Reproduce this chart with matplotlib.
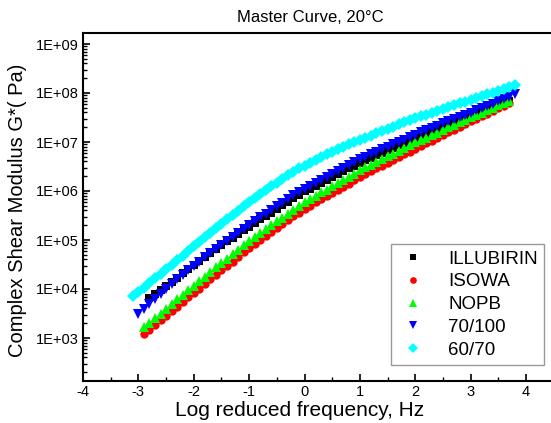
import matplotlib
matplotlib.use("Agg")
import matplotlib.pyplot as plt
import matplotlib.ticker as mticker
import numpy as np

plt.rcParams['font.family'] = ['Liberation Sans', 'DejaVu Sans']

# ---- data: log10 reduced frequency (Hz) and log10 |G*| (Pa) ----
illubirin_x = [-2.8, -2.7, -2.6, -2.5, -2.4, -2.3, -2.2, -2.1, -2.0,
               -1.9, -1.8, -1.7, -1.6, -1.5, -1.4, -1.3, -1.2, -1.1, -1.0,
               -0.9, -0.8, -0.7, -0.6, -0.5, -0.4, -0.3, -0.2, -0.1, 0.0,
               0.1, 0.2, 0.3, 0.4, 0.5, 0.6, 0.7, 0.8, 0.9, 1.0,
               1.1, 1.2, 1.3, 1.4, 1.5, 1.6, 1.7, 1.8, 1.9, 2.0,
               2.1, 2.2, 2.3, 2.4, 2.5, 2.6, 2.7, 2.8, 2.9, 3.0,
               3.1, 3.2, 3.3, 3.4, 3.5, 3.6, 3.7]
illubirin_logg = [3.82, 3.90, 3.98, 4.07, 4.15, 4.23, 4.32, 4.41, 4.50,
                  4.58, 4.66, 4.74, 4.82, 4.90, 4.97, 5.05, 5.12, 5.20, 5.27,
                  5.34, 5.42, 5.49, 5.56, 5.64, 5.71, 5.78, 5.85, 5.92, 5.99,
                  6.05, 6.11, 6.17, 6.23, 6.29, 6.35, 6.41, 6.47, 6.52, 6.58,
                  6.63, 6.68, 6.73, 6.78, 6.83, 6.88, 6.93, 6.98, 7.03, 7.08,
                  7.12, 7.17, 7.21, 7.26, 7.30, 7.35, 7.39, 7.44, 7.48, 7.52,
                  7.57, 7.61, 7.66, 7.70, 7.75, 7.79, 7.84]

isowa_x = [-2.9, -2.8, -2.7, -2.6, -2.5, -2.4, -2.3, -2.2, -2.1, -2.0,
           -1.9, -1.8, -1.7, -1.6, -1.5, -1.4, -1.3, -1.2, -1.1, -1.0,
           -0.9, -0.8, -0.7, -0.6, -0.5, -0.4, -0.3, -0.2, -0.1, 0.0,
           0.1, 0.2, 0.3, 0.4, 0.5, 0.6, 0.7, 0.8, 0.9, 1.0,
           1.1, 1.2, 1.3, 1.4, 1.5, 1.6, 1.7, 1.8, 1.9, 2.0,
           2.1, 2.2, 2.3, 2.4, 2.5, 2.6, 2.7, 2.8, 2.9, 3.0,
           3.1, 3.2, 3.3, 3.4, 3.5, 3.6, 3.7]
isowa_logg = [3.08, 3.17, 3.27, 3.36, 3.45, 3.55, 3.64, 3.73, 3.83, 3.92,
              4.01, 4.10, 4.20, 4.29, 4.38, 4.47, 4.56, 4.66, 4.75, 4.84,
              4.92, 5.00, 5.08, 5.16, 5.24, 5.32, 5.40, 5.48, 5.56, 5.64,
              5.70, 5.77, 5.83, 5.90, 5.96, 6.02, 6.09, 6.15, 6.22, 6.28,
              6.34, 6.40, 6.46, 6.52, 6.57, 6.63, 6.69, 6.75, 6.80, 6.86,
              6.92, 6.97, 7.03, 7.08, 7.14, 7.20, 7.25, 7.31, 7.36, 7.42,
              7.47, 7.53, 7.58, 7.63, 7.69, 7.74, 7.79]

nopb_x = [-2.9, -2.8, -2.7, -2.6, -2.5, -2.4, -2.3, -2.2, -2.1, -2.0,
          -1.9, -1.8, -1.7, -1.6, -1.5, -1.4, -1.3, -1.2, -1.1, -1.0,
          -0.9, -0.8, -0.7, -0.6, -0.5, -0.4, -0.3, -0.2, -0.1, 0.0,
          0.1, 0.2, 0.3, 0.4, 0.5, 0.6, 0.7, 0.8, 0.9, 1.0,
          1.1, 1.2, 1.3, 1.4, 1.5, 1.6, 1.7, 1.8, 1.9, 2.0,
          2.1, 2.2, 2.3, 2.4, 2.5, 2.6, 2.7, 2.8, 2.9, 3.0,
          3.1, 3.2, 3.3, 3.4, 3.5, 3.6, 3.7]
nopb_logg = [3.22, 3.31, 3.41, 3.50, 3.60, 3.69, 3.79, 3.88, 3.98, 4.07,
             4.16, 4.25, 4.35, 4.44, 4.53, 4.62, 4.71, 4.80, 4.89, 4.98,
             5.06, 5.14, 5.22, 5.30, 5.38, 5.45, 5.53, 5.61, 5.69, 5.77,
             5.84, 5.90, 5.97, 6.03, 6.10, 6.16, 6.23, 6.29, 6.35, 6.42,
             6.48, 6.53, 6.59, 6.65, 6.71, 6.76, 6.82, 6.88, 6.94, 6.99,
             7.04, 7.09, 7.14, 7.19, 7.25, 7.30, 7.35, 7.40, 7.45, 7.50,
             7.55, 7.60, 7.65, 7.70, 7.75, 7.79, 7.84]

b70_100_x = [-3.0, -2.9, -2.8, -2.7, -2.6, -2.5, -2.4, -2.3, -2.2, -2.1, -2.0,
             -1.9, -1.8, -1.7, -1.6, -1.5, -1.4, -1.3, -1.2, -1.1, -1.0,
             -0.9, -0.8, -0.7, -0.6, -0.5, -0.4, -0.3, -0.2, -0.1, 0.0,
             0.1, 0.2, 0.3, 0.4, 0.5, 0.6, 0.7, 0.8, 0.9, 1.0,
             1.1, 1.2, 1.3, 1.4, 1.5, 1.6, 1.7, 1.8, 1.9, 2.0,
             2.1, 2.2, 2.3, 2.4, 2.5, 2.6, 2.7, 2.8, 2.9, 3.0,
             3.1, 3.2, 3.3, 3.4, 3.5, 3.6, 3.7, 3.8]
b70_100_logg = [3.50, 3.60, 3.70, 3.80, 3.90, 4.00, 4.10, 4.20, 4.29, 4.38, 4.47,
                4.56, 4.65, 4.73, 4.82, 4.90, 4.98, 5.07, 5.15, 5.23, 5.31,
                5.39, 5.46, 5.54, 5.61, 5.69, 5.76, 5.84, 5.91, 5.98, 6.05,
                6.11, 6.17, 6.23, 6.29, 6.35, 6.41, 6.47, 6.53, 6.59, 6.65,
                6.70, 6.75, 6.80, 6.85, 6.90, 6.95, 7.00, 7.05, 7.10, 7.15,
                7.20, 7.24, 7.29, 7.33, 7.38, 7.42, 7.47, 7.51, 7.56, 7.60,
                7.65, 7.69, 7.74, 7.78, 7.83, 7.87, 7.92, 7.97]

b60_70_x = [-3.1, -3.0, -2.9, -2.8, -2.7, -2.6, -2.5, -2.4, -2.3, -2.2, -2.1, -2.0,
            -1.9, -1.8, -1.7, -1.6, -1.5, -1.4, -1.3, -1.2, -1.1, -1.0,
            -0.9, -0.8, -0.7, -0.6, -0.5, -0.4, -0.3, -0.2, -0.1, 0.0,
            0.1, 0.2, 0.3, 0.4, 0.5, 0.6, 0.7, 0.8, 0.9, 1.0,
            1.1, 1.2, 1.3, 1.4, 1.5, 1.6, 1.7, 1.8, 1.9, 2.0,
            2.1, 2.2, 2.3, 2.4, 2.5, 2.6, 2.7, 2.8, 2.9, 3.0,
            3.1, 3.2, 3.3, 3.4, 3.5, 3.6, 3.7, 3.8]
b60_70_logg = [3.85, 3.94, 4.03, 4.13, 4.22, 4.31, 4.41, 4.50, 4.59, 4.68, 4.78, 4.87,
               4.96, 5.06, 5.15, 5.24, 5.33, 5.42, 5.51, 5.60, 5.69, 5.78,
               5.86, 5.94, 6.02, 6.10, 6.17, 6.25, 6.32, 6.39, 6.46, 6.52,
               6.58, 6.64, 6.69, 6.75, 6.80, 6.85, 6.90, 6.95, 7.00, 7.04,
               7.09, 7.13, 7.18, 7.22, 7.27, 7.31, 7.36, 7.40, 7.45, 7.49,
               7.53, 7.56, 7.60, 7.64, 7.67, 7.71, 7.75, 7.79, 7.82, 7.86,
               7.90, 7.93, 7.97, 8.01, 8.05, 8.08, 8.12, 8.16]

series_names = ["ILLUBIRIN", "ISOWA", "NOPB", "70/100", "60/70"]
series_x = [illubirin_x, isowa_x, nopb_x, b70_100_x, b60_70_x]
series_logg = [illubirin_logg, isowa_logg, nopb_logg, b70_100_logg, b60_70_logg]
series_colors = ["#000000", "#FF0000", "#00FF00", "#0000FF", "#00FFFF"]
series_markers = ["s", "o", "^", "v", "D"]
series_msize = [5.5, 6.0, 7.0, 7.0, 6.0]

x_ticks = [-4, -3, -2, -1, 0, 1, 2, 3, 4]
y_ticks = [1e3, 1e4, 1e5, 1e6, 1e7, 1e8, 1e9]

W, H = 551, 423
fig = plt.figure(figsize=(W / 100, H / 100), dpi=100)
ax_left, ax_right, ax_top, ax_bottom = 83, 560, 33, 381
ax = fig.add_axes([ax_left / W, 1 - ax_bottom / H, (ax_right - ax_left) / W, (ax_bottom - ax_top) / H])

for name, xs, lg, c, m, ms in zip(series_names, series_x, series_logg, series_colors, series_markers, series_msize):
    ax.plot(xs, 10 ** np.array(lg), linestyle="none", marker=m, color=c,
            markersize=ms, markeredgewidth=0, label=name)

ax.set_yscale("log")
px_per_unit = (526 - 83) / 8.0
ax.set_xlim(-4, -4 + (ax_right - ax_left) / px_per_unit)
dec_px = (338 - 44) / 6.0
ax.set_ylim(10 ** (3 - (ax_bottom - 338) / dec_px), 10 ** (9 + (44 - ax_top) / dec_px))

ax.set_xticks(x_ticks)
ax.set_xticklabels([str(t) for t in x_ticks], fontsize=10.5)
ax.xaxis.set_minor_locator(mticker.MultipleLocator(0.5))
ax.set_yticks(y_ticks)
ax.set_yticklabels(["1E+%02d" % int(round(np.log10(v))) for v in y_ticks], fontsize=10.5)
ax.yaxis.set_minor_locator(mticker.LogLocator(base=10, subs=np.arange(2, 10), numticks=20))
ax.yaxis.set_minor_formatter(mticker.NullFormatter())

ax.tick_params(axis="both", which="major", direction="in", length=5, width=1.2, pad=3)
ax.tick_params(axis="both", which="minor", direction="in", length=3, width=1.0)
ax.tick_params(top=False, right=False, which="both")
for s in ["left", "bottom", "top"]:
    ax.spines[s].set_linewidth(1.5)
ax.spines["right"].set_visible(False)

fig.text(300 / W, 1 - 410 / H, "Log reduced frequency, Hz", ha="center", va="center", fontsize=15)
fig.text(18 / W, 1 - 210 / H, "Complex Shear Modulus G*( Pa)", ha="center", va="center",
         rotation=90, fontsize=14.5)
fig.text(310 / W, 1 - 18 / H, "Master Curve, 20°C", ha="center", va="center", fontsize=12)

leg = fig.legend(loc="upper left", bbox_to_anchor=(391 / W, 1 - 244 / H), bbox_transform=fig.transFigure,
                 fontsize=13.5, frameon=True, fancybox=False, handlelength=1.6, handletextpad=1.1,
                 borderpad=0.35, labelspacing=0.3, borderaxespad=0, markerscale=0.8)
leg.get_frame().set_edgecolor("#808080")
leg.get_frame().set_linewidth(1.0)

fig.savefig("out.png", dpi=100)
